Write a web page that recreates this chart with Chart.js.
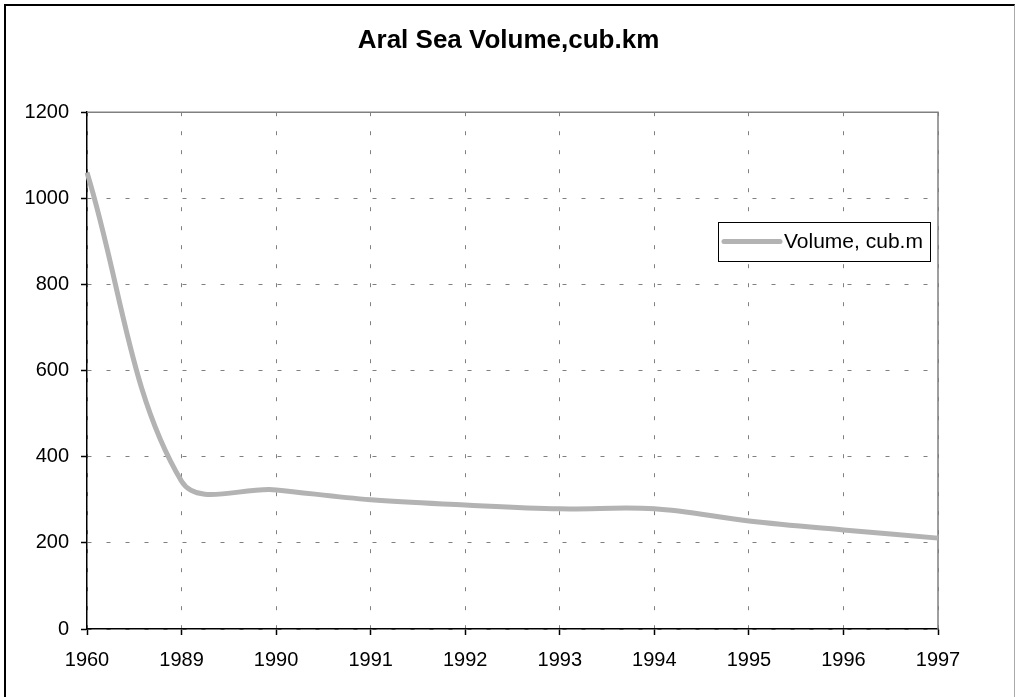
<!DOCTYPE html>
<html><head><meta charset="utf-8">
<script src="https://cdn.jsdelivr.net/npm/chart.js@4"></script>
<style>
html,body{margin:0;padding:0;background:#fff;}
#wrap{position:relative;width:1017px;height:697px;overflow:hidden;background:#fff;}
#frame{position:absolute;left:4px;top:4px;width:1011px;height:720px;border-left:2px solid #000;border-top:2px solid #000;border-right:1px solid #aaa;box-sizing:border-box;}
canvas{position:absolute;left:0;top:0;}
</style></head>
<body><div id="wrap"><div id="frame"></div><canvas id="c" width="1017" height="697"></canvas></div>
<script>
const chartTitle = 'Aral Sea Volume,cub.km';
const seriesName = 'Volume, cub.m';
const categories = ['1960','1989','1990','1991','1992','1993','1994','1995','1996','1997'];
const volume = [1060, 343, 323, 300, 288, 279, 279, 251, 230, 211];
const yTicks = [0, 200, 400, 600, 800, 1000, 1200];

const FONT = '"Liberation Sans", Arial, sans-serif';
const LINE_COLOR = '#b3b3b3';

const decorPlugin = {
  id: 'decor',
  beforeDatasetsDraw(chart) {
    const {ctx, chartArea: a} = chart;
    ctx.save();
    ctx.strokeStyle = '#808080';
    ctx.lineWidth = 1.5;
    ctx.beginPath();
    ctx.moveTo(a.left, a.top);
    ctx.lineTo(a.right, a.top);
    ctx.lineTo(a.right, a.bottom);
    ctx.stroke();
    ctx.restore();
  },
  afterDatasetsDraw(chart) {
    const {ctx} = chart;
    const box = {x: 718, y: 222, w: 212, h: 39};
    ctx.save();
    ctx.fillStyle = '#fff';
    ctx.fillRect(box.x, box.y, box.w, box.h);
    ctx.strokeStyle = '#000';
    ctx.lineWidth = 1;
    ctx.strokeRect(box.x + 0.5, box.y + 0.5, box.w, box.h);
    const ds = chart.data.datasets[0];
    const cy = box.y + box.h / 2;
    ctx.strokeStyle = ds.borderColor;
    ctx.lineWidth = 5;
    ctx.lineCap = 'round';
    ctx.beginPath();
    ctx.moveTo(box.x + 6, cy);
    ctx.lineTo(box.x + 62, cy);
    ctx.stroke();
    ctx.fillStyle = '#000';
    ctx.font = '21px ' + FONT;
    ctx.textBaseline = 'middle';
    ctx.textAlign = 'left';
    ctx.fillText(ds.label, box.x + 66, cy + 1);
    ctx.restore();
  }
};

new Chart(document.getElementById('c'), {
  type: 'line',
  data: {
    labels: categories,
    datasets: [{
      label: seriesName,
      data: volume,
      borderColor: LINE_COLOR,
      borderWidth: 5,
      pointRadius: 0,
      tension: 0.36,
      fill: false
    }]
  },
  options: {
    responsive: false,
    devicePixelRatio: 1,
    animation: false,
    layout: {padding: 0},
    plugins: {
      legend: {display: false},
      tooltip: {enabled: false},
      title: {
        display: true,
        text: chartTitle,
        color: '#000',
        font: {family: FONT, size: 26, weight: 'bold', lineHeight: 1.2},
        padding: {top: 25, bottom: 56}
      }
    },
    scales: {
      x: {
        type: 'category',
        offset: false,
        afterFit(s) { s.height = 68; },
        grid: {color: '#808080', lineWidth: 1, tickLength: 6, tickColor: '#000', tickWidth: 1.5, tickBorderDash: [], offset: false},
        border: {color: '#000', width: 1.5, dash: [4, 15]},
        ticks: {color: '#000', font: {family: FONT, size: 20}, padding: 13, maxRotation: 0, autoSkip: false}
      },
      y: {
        min: 0, max: 1200,
        afterFit(s) { s.width = 87; },
        afterBuildTicks(s) { s.ticks = yTicks.map(v => ({value: v})); },
        grid: {color: '#808080', lineWidth: 1, tickLength: 6, tickColor: '#000', tickWidth: 1.5, tickBorderDash: []},
        border: {color: '#000', width: 1.5, dash: [4, 15]},
        ticks: {color: '#000', font: {family: FONT, size: 20}, padding: 12, callback: v => String(v)}
      },
      spacer: {
        position: 'right',
        display: true,
        afterFit(s) { s.width = 79; },
        grid: {display: false, drawOnChartArea: false, drawTicks: false},
        border: {display: false},
        ticks: {display: false}
      }
    }
  },
  plugins: [decorPlugin]
});
</script>
</body></html>
